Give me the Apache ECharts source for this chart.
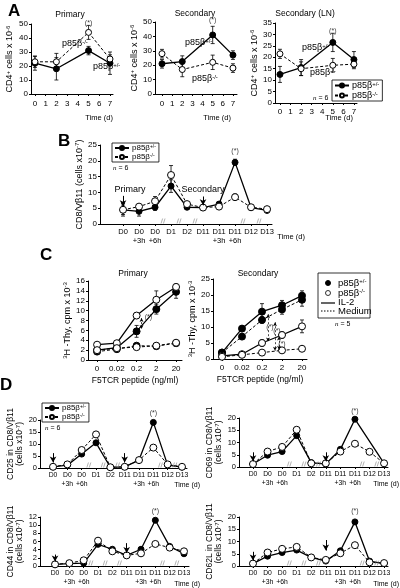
<!DOCTYPE html>
<html><head><meta charset="utf-8">
<script src="https://cdn.jsdelivr.net/npm/echarts@6/dist/echarts.min.js"></script>
<style>html,body{margin:0;padding:0;background:#fff}#c{width:400px;height:588px}</style>
</head><body><div id="c"></div>
<script>
// ---------------- data ----------------
// Panel A (CD4+ cells x 10^-6 vs time in days)
const aDays = [0, 2, 5, 7];
const aDayTicks = [0, 1, 2, 3, 4, 5, 6, 7];
const aPrimHet = [22, 18, 31, 22];
const aPrimHetErr = [5, 8, 3, 8];
const aPrimKo = [23, 23, 44, 25];
const aPrimKoErr = [4, 6, 5, 3];
const aSecHet = [21, 22.5, 41, 27];
const aSecHetErr = [3, 4, 6, 3];
const aSecKo = [28, 17, 22, 18];
const aSecKoErr = [3, 5, 5, 3];
const aLnHet = [12.5, 15.5, 26.5, 19];
const aLnHetErr = [3.5, 3.5, 4, 3.5];
const aLnKo = [21.5, 15, 16.5, 17];
const aLnKoErr = [2, 3, 3, 2];

// Panels B and D share time points
const timeLabels = ['D0', 'D0\n+3h', 'D0\n+6h', 'D1', 'D2', 'D11', 'D11\n+3h', 'D11\n+6h', 'D12', 'D13'];
const timeIdx = [0, 1, 2, 3, 4, 5, 6, 7, 8, 9];
const axisBreaks = [2.5, 3.5, 4.5, 7.5, 8.5];
// Panel B: CD8/Vb11
const bHet = [4.5, 4, 5.3, 12, 5.3, 5.2, 6.3, 19.5, 5.2, 4.3];
const bHetErr = [1.5, 1.5, 1, 2, 0.5, 0.4, 0.5, 1, 0.4, 0.4];
const bKo = [4.5, 5.5, 7.2, 15.5, 6.3, 5.2, 5.5, 8.5, 5.3, 4.7];
const bKoErr = [2, 0.5, 1.5, 3, 0.5, 0.4, 0.5, 1, 0.4, 0.4];

// Panel C: 3H-Thy cpm x 10^-3 vs F5TCR peptide dose
const cDoseLabels = ['0', '0.02', '0.2', '2', '20'];
const cDoseIdx = [0, 1, 2, 3, 4];
const cPrimIl2Het = [2.0, 2.5, 5.8, 10.3, 13.8];
const cPrimIl2HetErr = [0.3, 0.3, 1.2, 1.0, 1.3];
const cPrimIl2Ko = [3.1, 3.4, 9.0, 12.2, 14.8];
const cPrimIl2KoErr = [0.2, 0.2, 0.6, 1.8, 0.6];
const cPrimMedHet = [1.7, 2.2, 2.9, 2.8, 3.4];
const cPrimMedKo = [2.0, 2.4, 2.6, 2.9, 3.5];
const cSecIl2Het = [2.0, 9.5, 14.8, 16.8, 19.8];
const cSecIl2HetErr = [0.4, 0.5, 2.5, 1.5, 1.5];
const cSecMedHet = [2.0, 7.0, 12.2, 15.5, 18.5];
const cSecMedHetErr = [0.4, 0.5, 1.0, 1.5, 2.0];
const cSecIl2Ko = [1.0, 1.5, 5.0, 7.5, 10.2];
const cSecIl2KoErr = [0.3, 0.3, 1.0, 1.0, 2.0];
const cSecMedKo = [0.7, 1.3, 2.0, 2.7, 3.2];

// Panel D: subsets in CD8/Vb11 (cells x10^-7)
const dCd25Het = [0.5, 1.2, 5.8, 10.5, 0.3, 0.5, 3.3, 19, 1.2, 0.4];
const dCd25Ko = [0.5, 1.5, 7.5, 14, 0.3, 0.5, 3.3, 8.5, 1.5, 0.5];
const dCd69Het = [1.2, 4.8, 6.3, 12.8, 1.8, 1.2, 7.2, 19.5, null, 1.5];
const dCd69Ko = [1.2, 6.3, 8.2, 15.2, 1.5, 1.5, 6.3, 9.5, 6.2, 1.5];
const dCd44Het = [0.4, 0.6, 0.7, 5.3, 4.1, 2.6, 4.1, 11.2, 4.8, 3.0];
const dCd44Ko = [0.4, 0.7, 1.4, 6.2, 3.6, 2.6, 3.1, 5.4, 4.5, 3.6];
const dCd62Het = [1.0, 4.0, 5.5, 6.5, 3.5, 2.0, 6.2, 18, 2.0, 1.0];
const dCd62Ko = [1.0, 5.5, 7.0, 7.8, 3.5, 2.5, 5.2, 8.5, 1.5, 1.2];

// ---------------- helpers ----------------
const FF = '"Liberation Sans", Arial, sans-serif';
const HET = 'p85β+/-';
const KO = 'p85β-/-';
const richT = (fs) => ({
  t: {fontSize: fs, fontFamily: FF, color: '#000'},
  s: {fontSize: Math.round(fs * 0.65), fontFamily: FF, color: '#000', verticalAlign: 'top'},
  i: {fontSize: fs, fontFamily: 'Liberation Serif, serif', fontStyle: 'italic', color: '#000'}
});
const supName = (n) => n === HET ? '{t|p85β}{s|+/-}' : '{t|p85β}{s|-/-}';

const grids = [
  {left: 31, top: 24, width: 82, height: 70},
  {left: 155, top: 22, width: 82, height: 72},
  {left: 275, top: 23, width: 82, height: 80},
  {left: 100, top: 145, width: 172, height: 79},
  {left: 88, top: 281, width: 94, height: 79},
  {left: 213, top: 279, width: 94, height: 80},
  {left: 40, top: 420, width: 147, height: 48},
  {left: 239, top: 418, width: 149, height: 49},
  {left: 40, top: 517, width: 149, height: 49},
  {left: 239, top: 517, width: 149, height: 49}
].map(g => Object.assign({outerBoundsMode: 'none', containLabel: false}, g));

const axLine = {show: true, onZero: false, lineStyle: {color: '#000', width: 1}};
function xAx(gi, min, max, ticks, fmt, fs, margin, extra) {
  return Object.assign({
    type: 'value', gridIndex: gi, min, max,
    axisLine: axLine,
    axisTick: {show: true, length: 2, lineStyle: {color: '#000'}, customValues: ticks},
    axisLabel: {show: true, customValues: ticks, formatter: fmt, fontSize: fs, fontFamily: FF, color: '#000',
      margin, lineHeight: fs + 2},
    splitLine: {show: false}
  }, extra || {});
}
function yAx(gi, max, interval, name, gap, fs) {
  return {
    type: 'value', gridIndex: gi, min: 0, max, interval,
    axisLine: axLine,
    axisTick: {show: true, length: 2, lineStyle: {color: '#000'}},
    axisLabel: {fontSize: fs, fontFamily: FF, color: '#000', margin: 3},
    splitLine: {show: false},
    name, nameLocation: 'middle', nameGap: gap, nameRotate: 90,
    nameTextStyle: {rich: richT(fs + 1), lineHeight: fs + 2}
  };
}
const pairs = (xs, ys) => ys.map((y, i) => [xs[i], y == null ? null : y]);
function lineS(gi, name, xs, ys, filled, dashed, size) {
  return {
    type: 'line', name, xAxisIndex: gi, yAxisIndex: gi, data: pairs(xs, ys),
    symbol: 'circle', symbolSize: size || 6, connectNulls: true, z: 4,
    lineStyle: {color: '#000', width: dashed ? 1 : 1.3, type: dashed ? [3, 2] : 'solid'},
    itemStyle: filled ? {color: '#000', borderColor: '#000', borderWidth: 1}
                      : {color: '#fff', borderColor: '#000', borderWidth: 1},
    label: {show: false}, emphasis: {disabled: true}
  };
}
function errS(gi, xs, ys, es) {
  return {
    type: 'custom', xAxisIndex: gi, yAxisIndex: gi, z: 2, silent: true,
    data: ys.map((y, i) => [xs[i], y - es[i], y + es[i]]),
    encode: {x: 0, y: [1, 2]},
    renderItem(params, api) {
      const x = api.value(0);
      const a = api.coord([x, api.value(2)]), b = api.coord([x, api.value(1)]);
      const w = 2, st = {stroke: '#000', lineWidth: 0.8};
      return {type: 'group', children: [
        {type: 'line', shape: {x1: a[0], y1: a[1], x2: b[0], y2: b[1]}, style: st},
        {type: 'line', shape: {x1: a[0] - w, y1: a[1], x2: a[0] + w, y2: a[1]}, style: st},
        {type: 'line', shape: {x1: b[0] - w, y1: b[1], x2: b[0] + w, y2: b[1]}, style: st}
      ]};
    }
  };
}
function starS(gi, x, y, fs) {
  return {type: 'scatter', xAxisIndex: gi, yAxisIndex: gi, data: [[x, y]], symbolSize: 0, clip: false, silent: true,
    label: {show: true, position: 'inside', formatter: '(*)', fontSize: fs || 7, fontFamily: FF, color: '#000'}};
}
function breakS(gi) {
  return {type: 'scatter', xAxisIndex: gi, yAxisIndex: gi, data: axisBreaks.map(x => [x, 0]), clip: false, silent: true,
    symbol: 'path://M0,6 L2,0 M3,6 L5,0', symbolSize: [4, 5], symbolOffset: [0, -3], z: 5,
    itemStyle: {color: 'none', borderColor: '#777', borderWidth: 0.7}};
}
function arrowS(gi, x, y1, y2, text, pad) {
  return {type: 'line', xAxisIndex: gi, yAxisIndex: gi, data: [], silent: true,
    markLine: {silent: true, symbol: ['none', 'arrow'], symbolSize: [5, 6], animation: false,
      lineStyle: {color: '#000', width: 1, type: 'solid'},
      label: {show: !!text, position: 'start', formatter: text || '', fontSize: 9, fontFamily: FF, color: '#000',
        distance: 2, padding: pad || 0},
      data: [[{coord: [x, y1]}, {coord: [x, y2]}]]}};
}
function bracketS(gi, x, y1, y2) {
  return {type: 'line', xAxisIndex: gi, yAxisIndex: gi, data: [], silent: true,
    markLine: {silent: true, symbol: ['arrow', 'arrow'], symbolSize: [3, 4], animation: false,
      lineStyle: {color: '#000', width: 0.7, type: [2, 2]}, label: {show: false},
      data: [[{coord: [x, y1]}, {coord: [x, y2]}]]}};
}

const aFmt = v => String(v);
const tFmt = v => timeLabels[v];
const cFmt = v => cDoseLabels[v];
const aName = '{t|CD4}{s|+}{t| cells x 10}{s|-6}';
const bName = '{t|CD8/Vβ11 (cells x10}{s|-7}{t|)}';
const cName = '{s|3}{t|H -Thy, cpm x 10}{s|-3}';
const dName = p => '{t|' + p + ' in CD8/Vβ11}\n{t|(cells x10}{s|-7}{t|)}';

const xAxes = [
  xAx(0, -0.37, 7.28, aDayTicks, aFmt, 8, 5),
  xAx(1, -0.69, 7.4, aDayTicks, aFmt, 8, 5),
  xAx(2, -0.47, 7.29, aDayTicks, aFmt, 8, 4),
  xAx(3, -1.44, 9.31, timeIdx, tFmt, 7.5, 3),
  xAx(4, -0.46, 4.3, cDoseIdx, cFmt, 8, 4, {name: 'F5TCR peptide (ng/ml)', nameLocation: 'middle', nameGap: 16,
    nameTextStyle: {fontSize: 8.5, fontFamily: FF, color: '#000'}}),
  xAx(5, -0.45, 4.25, cDoseIdx, cFmt, 8, 4, {name: 'F5TCR peptide (ng/ml)', nameLocation: 'middle', nameGap: 16,
    nameTextStyle: {fontSize: 8.5, fontFamily: FF, color: '#000'}}),
  xAx(6, -0.91, 9.35, timeIdx, tFmt, 6.8, 3),
  xAx(7, -0.96, 9.27, timeIdx, tFmt, 6.8, 3),
  xAx(8, -1.05, 9.35, timeIdx, tFmt, 6.8, 3),
  xAx(9, -0.96, 9.27, timeIdx, tFmt, 6.8, 3)
];
const yAxes = [
  yAx(0, 50, 10, aName, 16, 8),
  yAx(1, 50, 10, aName, 12, 8),
  yAx(2, 35, 5, aName, 12, 8),
  yAx(3, 25, 5, bName, 10, 8),
  yAx(4, 16, 2, cName, 14, 8),
  yAx(5, 25, 5, cName, 14, 8),
  yAx(6, 20, 5, dName('CD25'), 14, 7.5),
  yAx(7, 20, 5, dName('CD69'), 14, 7.5),
  yAx(8, 12, 2, dName('CD44'), 14, 7.5),
  yAx(9, 20, 5, dName('CD62L'), 14, 7.5)
];

const series = [
  // A
  errS(0, aDays, aPrimHet, aPrimHetErr), errS(0, aDays, aPrimKo, aPrimKoErr),
  lineS(0, HET, aDays, aPrimHet, true, false), lineS(0, KO, aDays, aPrimKo, false, true),
  errS(1, aDays, aSecHet, aSecHetErr), errS(1, aDays, aSecKo, aSecKoErr),
  lineS(1, HET, aDays, aSecHet, true, false), lineS(1, KO, aDays, aSecKo, false, true),
  errS(2, aDays, aLnHet, aLnHetErr), errS(2, aDays, aLnKo, aLnKoErr),
  lineS(2, HET, aDays, aLnHet, true, false), lineS(2, KO, aDays, aLnKo, false, true),
  starS(0, 5, 51), starS(1, 5, 51), starS(2, 5, 31.5),
  // B
  errS(3, timeIdx, bHet, bHetErr), errS(3, timeIdx, bKo, bKoErr),
  lineS(3, HET, timeIdx, bHet, true, false), lineS(3, KO, timeIdx, bKo, false, true, 7),
  starS(3, 7, 23), breakS(3),
  arrowS(3, 0, 8.9, 5.6, 'Primary', [0, 0, 0, 14]), arrowS(3, 5, 8.7, 5.9, 'Secondary'),
  // C primary
  errS(4, cDoseIdx, cPrimIl2Het, cPrimIl2HetErr), errS(4, cDoseIdx, cPrimIl2Ko, cPrimIl2KoErr),
  lineS(4, HET + ' IL-2', cDoseIdx, cPrimIl2Het, true, false, 7),
  lineS(4, KO + ' IL-2', cDoseIdx, cPrimIl2Ko, false, false, 7),
  lineS(4, HET + ' Medium', cDoseIdx, cPrimMedHet, true, true, 7),
  lineS(4, KO + ' Medium', cDoseIdx, cPrimMedKo, false, true, 7),
  bracketS(4, 2.25, 8.5, 6.3), starS(4, 2.6, 8.6),
  // C secondary
  errS(5, cDoseIdx, cSecIl2Het, cSecIl2HetErr), errS(5, cDoseIdx, cSecMedHet, cSecMedHetErr),
  errS(5, cDoseIdx, cSecIl2Ko, cSecIl2KoErr),
  lineS(5, HET + ' IL-2', cDoseIdx, cSecIl2Het, true, false, 7),
  lineS(5, HET + ' Medium', cDoseIdx, cSecMedHet, true, true, 7),
  lineS(5, KO + ' IL-2', cDoseIdx, cSecIl2Ko, false, false, 7),
  lineS(5, KO + ' Medium', cDoseIdx, cSecMedKo, false, true, 7),
  bracketS(5, 2.3, 14, 5.5), bracketS(5, 2.65, 11.5, 2.6), bracketS(5, 2.85, 7, 2.9),
  starS(5, 2.4, 10), starS(5, 2.75, 8.8), starS(5, 3.0, 4.8),
  // D
  lineS(6, HET, timeIdx, dCd25Het, true, false, 6), lineS(6, KO, timeIdx, dCd25Ko, false, true, 7),
  starS(6, 7, 23), arrowS(6, 0, 6.2, 2.3), arrowS(6, 5, 6.2, 2.3), breakS(6),
  lineS(7, HET, timeIdx, dCd69Het, true, false, 6), lineS(7, KO, timeIdx, dCd69Ko, false, true, 7),
  starS(7, 7, 23), arrowS(7, 0, 6, 2.3), arrowS(7, 5, 6, 2.3), breakS(7),
  lineS(8, HET, timeIdx, dCd44Het, true, false, 6), lineS(8, KO, timeIdx, dCd44Ko, false, true, 7),
  starS(8, 7, 13.5), arrowS(8, 0, 2.8, 1.1), arrowS(8, 5, 5.6, 3.2), breakS(8),
  lineS(9, HET, timeIdx, dCd62Het, true, false, 6), lineS(9, KO, timeIdx, dCd62Ko, false, true, 7),
  starS(9, 7, 22.5), arrowS(9, 0, 5.8, 2.2), arrowS(9, 5, 10.6, 6.3), breakS(9)
];

function legendAt(left, top, fs, iw) {
  return {
    left, top, orient: 'vertical', data: [HET, KO], itemWidth: iw, itemHeight: 5, itemGap: 1,
    padding: [1, 3, 1, 2], borderColor: '#000', borderWidth: 0.8, backgroundColor: '#fff',
    selectedMode: false, formatter: supName,
    textStyle: {fontSize: fs, fontFamily: FF, color: '#000', rich: richT(fs), padding: [0, 0, 0, -2]}
  };
}

const ctxt = (x, y, text, fs) => ({type: 'text', x, y,
  style: {text, fontSize: fs, fontFamily: FF, fill: '#000', align: 'center', verticalAlign: 'middle'}});
const rAlign = (x, y, text, fs) => ({type: 'text', x, y,
  style: {text, fontSize: fs, fontFamily: FF, fill: '#000', align: 'right', verticalAlign: 'middle'}});
const rtxt = (x, y, text, fs) => ({type: 'text', x, y,
  style: {text, fontFamily: FF, fill: '#000', rich: richT(fs), verticalAlign: 'middle'}});
const letter = (x, y, t) => ({type: 'text', x, y, style: {text: t, fontSize: 17, fontWeight: 'bold', fontFamily: FF, fill: '#000'}});

const graphic = [
  letter(8, 3, 'A'), letter(58, 133, 'B'), letter(40, 247, 'C'), letter(0, 377, 'D'),
  ctxt(70, 15, 'Primary', 8.5), ctxt(195, 14, 'Secondary', 8.5), ctxt(305, 14, 'Secondary (LN)', 8.5),
  ctxt(133, 274, 'Primary', 8.5), ctxt(258, 274, 'Secondary', 8.5),
  // Time (d)
  rAlign(113, 118, 'Time (d)', 7.5), rAlign(231, 118, 'Time (d)', 7.5), rAlign(353, 118, 'Time (d)', 7.5),
  rAlign(305, 237, 'Time (d)', 7.5), rAlign(200, 485, 'Time (d)', 7), rAlign(399, 484, 'Time (d)', 7),
  rAlign(200, 584, 'Time (d)', 7), rAlign(399, 584, 'Time (d)', 7),
  // curve labels in A
  rtxt(62, 44, supName(KO), 9), rtxt(93, 67, supName(HET), 9),
  rtxt(185, 43, supName(HET), 9), rtxt(192, 79, supName(KO), 9),
  rtxt(302, 48, supName(HET), 9), rtxt(310, 73, supName(KO), 9),
  // n labels
  rtxt(313, 98, '{i|n}{t| = 6}', 7), rtxt(113, 168, '{i|n}{t| = 6}', 7),
  rtxt(335, 324, '{i|n}{t| = 5}', 7), rtxt(45, 428, '{i|n}{t| = 6}', 7),
  // C legend
  {type: 'rect', shape: {x: 318, y: 273, width: 52, height: 45}, style: {fill: '#fff', stroke: '#000', lineWidth: 0.8}},
  {type: 'circle', shape: {cx: 328, cy: 283, r: 2.5}, style: {fill: '#000', stroke: '#000'}},
  {type: 'circle', shape: {cx: 328, cy: 293, r: 2.5}, style: {fill: '#fff', stroke: '#000', lineWidth: 0.8}},
  {type: 'line', shape: {x1: 321, y1: 303, x2: 335, y2: 303}, style: {stroke: '#000', lineWidth: 1.2}},
  {type: 'line', shape: {x1: 321, y1: 311, x2: 335, y2: 311}, style: {stroke: '#000', lineWidth: 1, lineDash: [1.5, 1.5]}},
  rtxt(338, 283, supName(HET), 9.5), rtxt(338, 293, supName(KO), 9.5),
  rtxt(338, 302, '{t|IL-2}', 9.5), rtxt(338, 311, '{t|Medium}', 9.5)
];

const option = {
  animation: false,
  backgroundColor: '#fff',
  textStyle: {fontFamily: FF},
  grid: grids,
  xAxis: xAxes,
  yAxis: yAxes,
  legend: [legendAt(332, 80, 9, 14), legendAt(112, 143, 8, 14), legendAt(42, 403, 8, 14)],
  series,
  graphic
};
const chart = echarts.init(document.getElementById('c'));
chart.setOption(option);
</script></body></html>
